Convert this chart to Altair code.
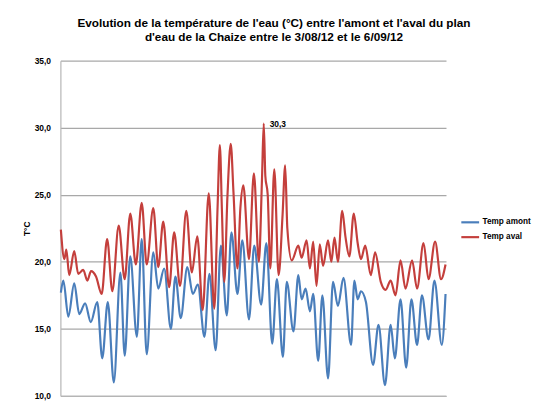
import altair as alt
import pandas as pd

# Days since 3/08/12 (x) and temperatures (°C)
jours_amont = [0.04, 0.26, 0.70, 1.22, 1.66, 2.18, 2.68, 3.25, 3.69, 4.18, 4.71, 5.29, 5.67, 6.16,
               6.74, 7.17, 7.61, 8.19, 8.63, 9.15, 9.74, 10.14, 10.61, 11.19, 11.68, 12.12, 12.70,
               13.14, 13.69, 14.15, 14.67, 15.08, 15.61, 16.04, 16.63, 17.09, 17.70, 18.16, 18.68,
               19.09, 19.62, 19.96, 20.55, 20.98, 21.27, 21.62, 22.00, 22.29, 22.73, 23.10, 23.60,
               24.04, 24.47, 24.96, 25.63, 25.92, 26.21, 26.50, 26.94, 27.57, 28.05, 28.62, 29.12,
               29.49, 29.99, 30.49, 30.95, 31.45, 31.88, 32.46, 32.98, 33.63, 33.96]
temp_amont = [17.7, 18.6, 15.9, 18.4, 16.1, 16.9, 15.5, 17.0, 12.8, 17.0, 11.0, 19.2, 13.0, 20.4,
              14.4, 21.7, 13.1, 20.7, 18.0, 19.5, 15.0, 18.9, 15.8, 19.6, 17.6, 18.3, 14.4,
              19.1, 13.4, 21.2, 16.0, 22.2, 17.6, 21.6, 15.7, 21.2, 16.8, 21.4, 13.9,
              18.7, 12.9, 18.5, 14.8, 19.0, 17.2, 18.0, 16.3, 17.6, 12.6, 17.5, 11.3,
              18.5, 16.7, 18.8, 13.8, 18.6, 17.2, 17.8, 17.0, 12.3, 15.3, 10.8, 15.3,
              12.8, 17.2, 12.1, 17.2, 13.8, 17.5, 14.2, 18.6, 13.8, 17.6]

jours_aval = [0.04, 0.35, 0.52, 0.78, 1.22, 1.57, 2.01, 2.38, 2.70, 3.14, 3.64, 4.12, 4.58, 5.14,
              5.67, 6.16, 6.65, 7.17, 7.61, 8.19, 8.63, 9.07, 9.59, 10.03, 10.55, 11.10, 11.59,
              12.07, 12.55, 13.08, 13.57, 13.86, 14.06, 14.24, 14.45, 14.73, 15.02, 15.26, 15.61,
              15.87, 16.13, 16.63, 17.06, 17.50, 17.78, 17.93, 18.07, 18.28, 18.51, 18.86, 19.24,
              19.59, 19.82, 20.01, 20.40, 20.98, 21.27, 21.71, 22.00, 22.29, 22.58, 22.87, 23.16,
              23.60, 23.89, 24.17, 24.47, 24.85, 25.13, 25.48, 25.87, 26.21, 26.50, 26.88, 27.37,
              27.75, 28.25, 28.68, 29.12, 29.55, 29.99, 30.43, 31.01, 31.45, 32.02, 32.46, 33.04,
              33.56, 33.96]
temp_aval = [22.4, 20.2, 20.9, 19.0, 20.8, 19.1, 19.4, 18.6, 19.3, 18.9, 17.6, 21.7, 17.8, 22.7,
             18.7, 23.6, 19.8, 24.4, 19.8, 24.0, 19.6, 23.0, 18.1, 22.2, 18.2, 23.8, 19.2,
             21.9, 16.4, 25.1, 16.5, 24.1, 28.7, 23.9, 18.5, 24.9, 28.8, 25.2, 19.5,
             24.0, 25.7, 20.2, 26.6, 20.0, 26.3, 30.3, 26.4, 25.0, 19.5, 26.9, 19.0,
             23.5, 27.2, 22.5, 20.1, 21.2, 20.3, 21.6, 19.5, 21.5, 18.2, 21.3, 19.7,
             21.6, 20.0, 21.8, 20.0, 23.8, 21.9, 20.4, 23.6, 21.4, 20.2, 21.2, 19.0,
             20.7, 18.5, 17.9, 18.6, 17.5, 20.1, 18.0, 20.1, 18.0, 21.4, 18.7, 21.5,
             18.7, 19.8]

series = ["Temp amont", "Temp aval"]
couleurs = ["#4a7ebb", "#c43f3c"]
ticks_y = [10, 15, 20, 25, 30, 35]

titre = ["Evolution de la température de l'eau (°C) entre  l'amont et l'aval du plan",
         "d'eau de la Chaize entre le 3/08/12 et le 6/09/12"]

df = pd.concat([
    pd.DataFrame({"jour": jours_amont, "temp": temp_amont, "serie": series[0]}),
    pd.DataFrame({"jour": jours_aval, "temp": temp_aval, "serie": series[1]}),
], ignore_index=True)

aval = df[df["serie"] == series[1]]
pic = aval.loc[[aval["temp"].idxmax()]].copy()
pic["label"] = pic["temp"].map(lambda v: f"{v:.1f}".replace(".", ","))

FONT = "Liberation Sans"

x_enc = alt.X("jour:Q", scale=alt.Scale(domain=[0, 34], nice=False, zero=False),
              axis=alt.Axis(labels=False, ticks=False, grid=False, title=None,
                            domainColor="#b5b5b5", domainWidth=1.2))
y_enc = alt.Y("temp:Q", scale=alt.Scale(domain=[10, 35], nice=False, zero=False),
              axis=alt.Axis(values=ticks_y,
                            labelExpr="replace(format(datum.value, '.1f'), '.', ',')",
                            title="T°C", titleFont=FONT, titleFontSize=8.5, titleFontWeight="bold",
                            titleColor="black", titlePadding=3,
                            labelFont=FONT, labelFontSize=8.5, labelFontWeight="bold",
                            labelColor="black", labelPadding=10, ticks=False,
                            gridColor="#a8a8a8", gridWidth=1.3,
                            domainColor="#b5b5b5", domainWidth=1.2))

lines = alt.Chart(df).mark_line(strokeWidth=2.2, interpolate="monotone").encode(
    x=x_enc,
    y=y_enc,
    color=alt.Color("serie:N",
                    scale=alt.Scale(domain=series, range=couleurs),
                    legend=alt.Legend(title=None, orient="none", legendX=404, legendY=153,
                                      symbolType="stroke", symbolSize=324, symbolStrokeWidth=2.2,
                                      labelFont=FONT, labelFontSize=8.3, labelFontWeight="bold",
                                      labelColor="black", labelOffset=2, padding=0, rowPadding=0,
                                      labelLimit=200)),
)

text = alt.Chart(pic).mark_text(align="left", baseline="middle", dx=6, fontSize=8.5,
                                fontWeight="bold", font=FONT, color="black").encode(
    x="jour:Q", y="temp:Q", text="label:N")

chart = alt.layer(lines, text).properties(
    width=390,
    height=339,
    autosize=alt.AutoSizeParams(type="none"),
    padding={"left": 53, "top": 51, "right": 88, "bottom": 8},
    background="white",
    title=alt.TitleParams(text=titre, font=FONT, fontSize=11.9, fontWeight="bold", color="black",
                          anchor="middle", dx=21, offset=13, lineHeight=14),
).configure_view(stroke=None)

chart.save("out.html", embed_options={"renderer": "svg", "actions": False})
